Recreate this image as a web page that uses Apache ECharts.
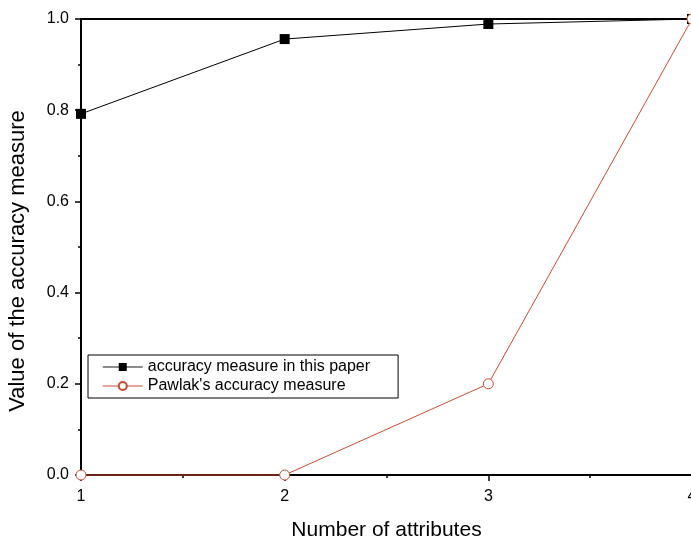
<!DOCTYPE html>
<html>
<head>
<meta charset="utf-8">
<script src="https://cdn.jsdelivr.net/npm/echarts@6/dist/echarts.min.js"></script>
<style>
  html, body { margin: 0; padding: 0; background: #fff; }
  #chart { width: 691px; height: 540px; }
</style>
</head>
<body>
<div id="chart"></div>
<script>
// data
const attributes = [1, 2, 3, 4];
const paperMeasure = [0.792, 0.956, 0.989, 1.0];
const pawlakMeasure = [0, 0, 0.2, 1.0];

const chart = echarts.init(document.getElementById('chart'));
const font = 'Liberation Sans, Arial, sans-serif';
const red = '#cc4a30';

const option = {
  animation: false,
  textStyle: { fontFamily: font },
  grid: { left: 81, top: 19, width: 611, height: 456, outerBoundsMode: 'none', containLabel: false },
  legend: {
    orient: 'vertical',
    left: 88,
    top: 355,
    itemWidth: 40,
    itemHeight: 10,
    itemGap: 3,
    padding: [4, 28, 4, 14],
    borderColor: '#000',
    borderWidth: 1,
    textStyle: { fontFamily: font, fontSize: 16, color: '#000' },
    data: [
      { name: 'accuracy measure in this paper', lineStyle: { color: '#666', width: 1.5 } },
      { name: "Pawlak's accuracy measure", lineStyle: { width: 1.2 } }
    ]
  },
  xAxis: [{
    type: 'value',
    min: 1, max: 4, interval: 1,
    name: 'Number of attributes',
    nameLocation: 'middle',
    nameGap: 45,
    nameTextStyle: { fontSize: 21, color: '#000', fontFamily: font },
    axisLine: { lineStyle: { color: '#000', width: 2 } },
    axisTick: { show: true, length: 6, lineStyle: { color: '#000', width: 1.5 } },
    minorTick: { show: true, splitNumber: 2, length: 3, lineStyle: { color: '#000', width: 1.5 } },
    axisLabel: { fontSize: 16, color: '#000', margin: 14, showMaxLabel: true },
    splitLine: { show: false }
  }, {
    type: 'value',
    position: 'top',
    min: 1, max: 4,
    axisLine: { show: true, lineStyle: { color: '#000', width: 2 } },
    axisTick: { show: false },
    axisLabel: { show: false },
    splitLine: { show: false }
  }],
  yAxis: {
    type: 'value',
    min: 0, max: 1, interval: 0.2,
    name: 'Value of the accuracy measure',
    nameLocation: 'middle',
    nameGap: 52,
    nameTextStyle: { fontSize: 22, color: '#000', fontFamily: font, padding: [0, 28, 0, 0] },
    axisLine: { show: true, lineStyle: { color: '#000', width: 2 } },
    axisTick: { show: true, length: 6, lineStyle: { color: '#000', width: 1.5 } },
    minorTick: { show: true, splitNumber: 2, length: 3, lineStyle: { color: '#000', width: 1.5 } },
    axisLabel: { fontSize: 16, color: '#000', margin: 12, formatter: v => v.toFixed(1) },
    splitLine: { show: false }
  },
  series: [{
    name: 'accuracy measure in this paper',
    type: 'line',
    data: attributes.map((x, i) => [x, paperMeasure[i]]),
    symbol: 'rect',
    symbolSize: 10,
    color: '#000',
    lineStyle: { color: '#000', width: 1 },
    itemStyle: { color: '#000' },
    clip: false,
    z: 3
  }, {
    name: "Pawlak's accuracy measure",
    type: 'line',
    data: attributes.map((x, i) => [x, pawlakMeasure[i]]),
    symbol: 'circle',
    symbolSize: 10,
    showAllSymbol: true,
    color: red,
    lineStyle: { color: red, width: 1 },
    itemStyle: { color: '#fff', borderColor: red, borderWidth: 1 },
    clip: false,
    z: 4
  }]
};

chart.setOption(option);
</script>
</body>
</html>
